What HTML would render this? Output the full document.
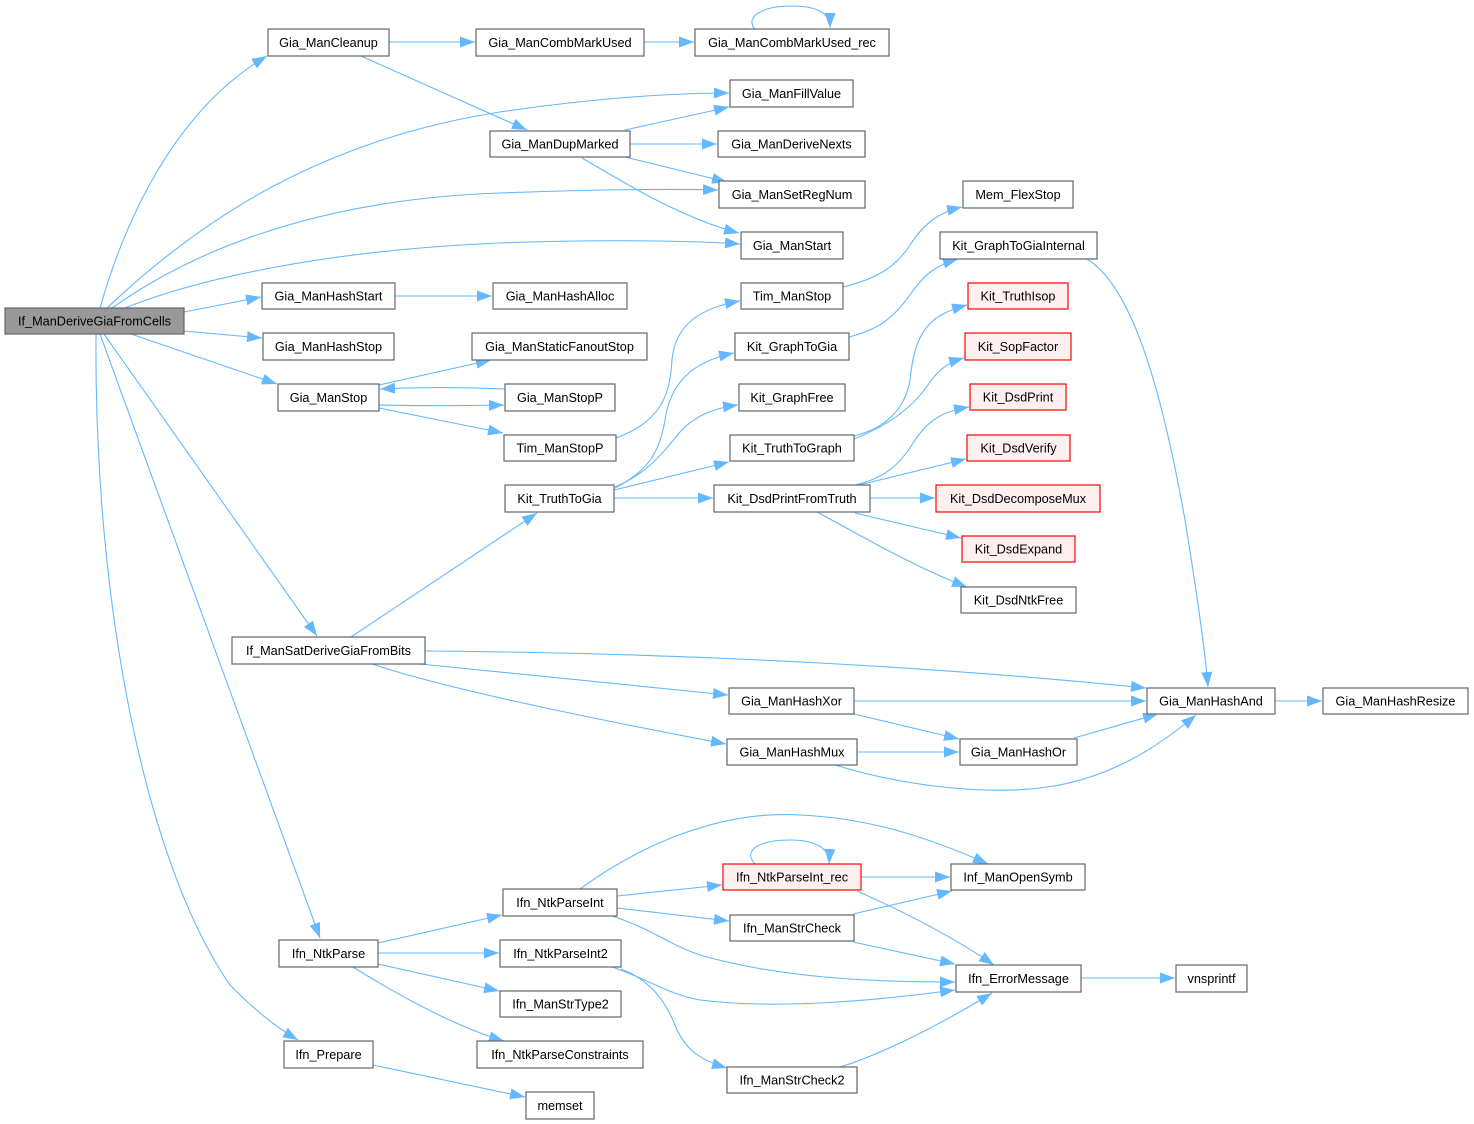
<!DOCTYPE html>
<html><head><meta charset="utf-8"><style>
html,body{margin:0;padding:0;background:#fff;}
svg{display:block;}
text{font-family:"Liberation Sans",Arial,sans-serif;font-size:12.7px;fill:#000;text-anchor:middle;}
.n{fill:#fff;stroke:#666;stroke-width:1.2;}
.r{fill:#fff0f0;stroke:#ff0000;stroke-width:1.2;}
.g{fill:#999;stroke:#666;stroke-width:1.2;}
.e{fill:none;stroke:#63b8ff;stroke-width:1.1;marker-end:url(#a);}
</style></head><body>
<svg width="1474" height="1124" viewBox="0 0 1474 1124" xmlns="http://www.w3.org/2000/svg">
<defs><marker id="a" markerWidth="16" markerHeight="12" refX="15" refY="5.5" orient="auto" markerUnits="userSpaceOnUse"><path d="M0,0 L15,5.5 L0,11 z" fill="#63b8ff"/></marker></defs>
<g>
<!-- root edges -->
<path class="e" d="M100,308 C125,220 175,110 267,56"/>
<path class="e" d="M107,308 C200,220 320,140 500,112 C600,97 680,93 729,93"/>
<path class="e" d="M112,308 C180,260 300,200 500,193 C600,189 680,189 718,190"/>
<path class="e" d="M125,308 C200,278 330,250 500,243 C600,239 700,241 740,244"/>
<path class="e" d="M184,312 L261,297"/>
<path class="e" d="M184,331 L262,338"/>
<path class="e" d="M131,334 L277,384"/>
<path class="e" d="M104,334 L317,636"/>
<path class="e" d="M100,334 L320,938"/>
<path class="e" d="M96,334 C94,620 150,870 230,985 C250,1005 272,1025 298,1040"/>
<!-- top -->
<path class="e" d="M389,42 L475,42"/>
<path class="e" d="M361,56 L527,130"/>
<path class="e" d="M644,42 L694,42"/>
<path class="e" d="M755,29 C745,18 760,6 792,6 C815,6 830,12 830,28"/>
<path class="e" d="M625,130 L729,107"/>
<path class="e" d="M630,144 L717,144"/>
<path class="e" d="M625,157 L727,182"/>
<path class="e" d="M582,158 C620,180 680,218 739,233"/>
<path class="e" d="M395,296 L492,296"/>
<path class="e" d="M379,385 L491,360"/>
<path class="e" d="M505,389 C460,387 420,387 380,389"/>
<path class="e" d="M379,405 C420,406 460,406 504,405"/>
<path class="e" d="M379,408 L503,433"/>
<path class="e" d="M616,438 C665,420 670,390 672,360 C675,325 700,308 740,301"/>
<path class="e" d="M843,287 C880,278 897,265 910,245 C925,222 940,212 962,207"/>
<path class="e" d="M849,337 C885,328 897,312 910,295 C925,273 937,265 958,259"/>
<path class="e" d="M1087,259 C1130,285 1160,380 1185,520 C1198,600 1205,650 1208,687"/>
<!-- truth to gia -->
<path class="e" d="M615,488 C650,470 660,450 665,420 C670,385 690,362 734,353"/>
<path class="e" d="M615,487 C650,472 665,450 680,432 C695,415 715,408 738,405"/>
<path class="e" d="M614,490 L729,462"/>
<path class="e" d="M614,498 L713,498"/>
<path class="e" d="M854,436 C885,428 905,410 910,380 C915,330 930,315 967,305"/>
<path class="e" d="M854,439 C890,425 915,405 930,382 C940,368 950,362 964,358"/>
<path class="e" d="M855,485 C885,478 900,465 915,440 C930,418 945,411 969,407"/>
<path class="e" d="M855,486 L966,459"/>
<path class="e" d="M870,498 L935,498"/>
<path class="e" d="M855,513 L961,538"/>
<path class="e" d="M817,512 C860,535 910,565 967,587"/>
<!-- sat derive -->
<path class="e" d="M351,637 L537,513"/>
<path class="e" d="M425,651 C700,653 950,668 1146,688"/>
<path class="e" d="M420,664 L728,695"/>
<path class="e" d="M372,664 C450,690 600,720 726,744"/>
<path class="e" d="M854,701 L1146,701"/>
<path class="e" d="M854,714 L959,739"/>
<path class="e" d="M857,752 L959,752"/>
<path class="e" d="M835,765 C900,785 980,795 1040,788 C1110,780 1160,745 1196,715"/>
<path class="e" d="M1074,738 L1158,714"/>
<path class="e" d="M1275,701 L1322,701"/>
<!-- bottom -->
<path class="e" d="M378,943 L502,915"/>
<path class="e" d="M378,953 L499,953"/>
<path class="e" d="M378,964 L499,991"/>
<path class="e" d="M353,967 C390,990 450,1025 504,1041"/>
<path class="e" d="M373,1065 L525,1097"/>
<path class="e" d="M580,889 C640,845 720,810 800,815 C870,818 930,838 988,864"/>
<path class="e" d="M617,896 L722,885"/>
<path class="e" d="M617,908 L729,921"/>
<path class="e" d="M612,916 C650,928 670,945 700,955 C780,978 870,982 955,982"/>
<path class="e" d="M612,967 C650,980 670,995 700,1000 C780,1010 880,1000 955,990"/>
<path class="e" d="M621,969 C650,980 665,1000 675,1025 C685,1050 700,1060 727,1068"/>
<path class="e" d="M755,864 C742,850 760,840 790,840 C815,840 830,848 829,864"/>
<path class="e" d="M861,877 L950,877"/>
<path class="e" d="M857,891 C900,910 950,935 994,965"/>
<path class="e" d="M853,914 L952,891"/>
<path class="e" d="M853,942 L955,964"/>
<path class="e" d="M840,1067 C880,1055 940,1025 992,993"/>
<path class="e" d="M1081,978 L1175,978"/>
</g>
<g>
<rect class="g" x="5" y="308" width="179" height="26"/><text x="94.5" y="325.5">If_ManDeriveGiaFromCells</text>
<rect class="n" x="268" y="29" width="121" height="27"/><text x="328.5" y="47">Gia_ManCleanup</text>
<rect class="n" x="476" y="29" width="168" height="27"/><text x="560" y="47">Gia_ManCombMarkUsed</text>
<rect class="n" x="695" y="29" width="194" height="27"/><text x="792" y="47">Gia_ManCombMarkUsed_rec</text>
<rect class="n" x="730" y="80" width="123" height="27"/><text x="791.5" y="98">Gia_ManFillValue</text>
<rect class="n" x="490" y="131" width="140" height="26"/><text x="560" y="148.5">Gia_ManDupMarked</text>
<rect class="n" x="718" y="131" width="147" height="26"/><text x="791.5" y="148.5">Gia_ManDeriveNexts</text>
<rect class="n" x="719" y="181" width="146" height="27"/><text x="792" y="199">Gia_ManSetRegNum</text>
<rect class="n" x="741" y="232" width="102" height="27"/><text x="792" y="250">Gia_ManStart</text>
<rect class="n" x="963" y="181" width="110" height="27"/><text x="1018" y="199">Mem_FlexStop</text>
<rect class="n" x="940" y="232" width="157" height="27"/><text x="1018.5" y="250">Kit_GraphToGiaInternal</text>
<rect class="n" x="262" y="283" width="133" height="26"/><text x="328.5" y="300.5">Gia_ManHashStart</text>
<rect class="n" x="493" y="283" width="134" height="26"/><text x="560" y="300.5">Gia_ManHashAlloc</text>
<rect class="n" x="741" y="283" width="102" height="26"/><text x="792" y="300.5">Tim_ManStop</text>
<rect class="r" x="968" y="283" width="100" height="26"/><text x="1018" y="300.5">Kit_TruthIsop</text>
<rect class="n" x="263" y="333" width="131" height="27"/><text x="328.5" y="351">Gia_ManHashStop</text>
<rect class="n" x="472" y="333" width="175" height="27"/><text x="559.5" y="351">Gia_ManStaticFanoutStop</text>
<rect class="n" x="735" y="333" width="114" height="27"/><text x="792" y="351">Kit_GraphToGia</text>
<rect class="r" x="965" y="333" width="106" height="27"/><text x="1018" y="351">Kit_SopFactor</text>
<rect class="n" x="278" y="384" width="101" height="27"/><text x="328.5" y="402">Gia_ManStop</text>
<rect class="n" x="505" y="384" width="110" height="27"/><text x="560" y="402">Gia_ManStopP</text>
<rect class="n" x="739" y="384" width="106" height="27"/><text x="792" y="402">Kit_GraphFree</text>
<rect class="r" x="970" y="384" width="96" height="26"/><text x="1018" y="401.5">Kit_DsdPrint</text>
<rect class="n" x="504" y="435" width="112" height="26"/><text x="560" y="452.5">Tim_ManStopP</text>
<rect class="n" x="730" y="435" width="124" height="26"/><text x="792" y="452.5">Kit_TruthToGraph</text>
<rect class="r" x="967" y="435" width="103" height="26"/><text x="1018.5" y="452.5">Kit_DsdVerify</text>
<rect class="n" x="505" y="485" width="109" height="27"/><text x="559.5" y="503">Kit_TruthToGia</text>
<rect class="n" x="714" y="485" width="156" height="27"/><text x="792" y="503">Kit_DsdPrintFromTruth</text>
<rect class="r" x="936" y="485" width="164" height="27"/><text x="1018" y="503">Kit_DsdDecomposeMux</text>
<rect class="r" x="962" y="536" width="113" height="26"/><text x="1018.5" y="553.5">Kit_DsdExpand</text>
<rect class="n" x="961" y="587" width="115" height="26"/><text x="1018.5" y="604.5">Kit_DsdNtkFree</text>
<rect class="n" x="232" y="637" width="193" height="27"/><text x="328.5" y="655">If_ManSatDeriveGiaFromBits</text>
<rect class="n" x="729" y="688" width="125" height="26"/><text x="791.5" y="705.5">Gia_ManHashXor</text>
<rect class="n" x="1147" y="688" width="128" height="26"/><text x="1211" y="705.5">Gia_ManHashAnd</text>
<rect class="n" x="1323" y="688" width="145" height="26"/><text x="1395.5" y="705.5">Gia_ManHashResize</text>
<rect class="n" x="727" y="739" width="130" height="26"/><text x="792" y="756.5">Gia_ManHashMux</text>
<rect class="n" x="960" y="739" width="117" height="26"/><text x="1018.5" y="756.5">Gia_ManHashOr</text>
<rect class="r" x="723" y="864" width="138" height="26"/><text x="792" y="881.5">Ifn_NtkParseInt_rec</text>
<rect class="n" x="951" y="864" width="134" height="26"/><text x="1018" y="881.5">Inf_ManOpenSymb</text>
<rect class="n" x="503" y="889" width="114" height="27"/><text x="560" y="907">Ifn_NtkParseInt</text>
<rect class="n" x="730" y="915" width="124" height="26"/><text x="792" y="932.5">Ifn_ManStrCheck</text>
<rect class="n" x="279" y="940" width="99" height="27"/><text x="328.5" y="958">Ifn_NtkParse</text>
<rect class="n" x="500" y="940" width="121" height="27"/><text x="560.5" y="958">Ifn_NtkParseInt2</text>
<rect class="n" x="956" y="965" width="125" height="27"/><text x="1018.5" y="983">Ifn_ErrorMessage</text>
<rect class="n" x="1176" y="965" width="71" height="27"/><text x="1211.5" y="983">vnsprintf</text>
<rect class="n" x="500" y="991" width="121" height="26"/><text x="560.5" y="1008.5">Ifn_ManStrType2</text>
<rect class="n" x="284" y="1041" width="89" height="27"/><text x="328.5" y="1059">Ifn_Prepare</text>
<rect class="n" x="477" y="1041" width="166" height="27"/><text x="560" y="1059">Ifn_NtkParseConstraints</text>
<rect class="n" x="727" y="1067" width="130" height="26"/><text x="792" y="1084.5">Ifn_ManStrCheck2</text>
<rect class="n" x="526" y="1092" width="68" height="27"/><text x="560" y="1110">memset</text>
</g>
</svg>
</body></html>
